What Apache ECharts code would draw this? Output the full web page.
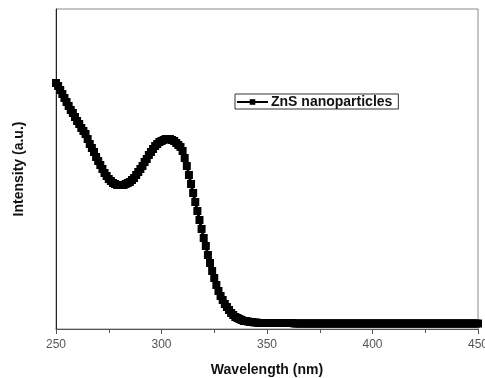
<!DOCTYPE html>
<html>
<head>
<meta charset="utf-8">
<script src="https://cdn.jsdelivr.net/npm/echarts@6/dist/echarts.min.js"></script>
<style>
  html, body { margin: 0; padding: 0; background: #fff; }
  #chart { width: 485px; height: 378px; }
</style>
</head>
<body>
<div id="chart"></div>
<script>
// wavelength axis
const xTicks = [250, 300, 350, 400, 450];
const startWavelength = 250;

// intensity (a.u.) at 1 nm steps, 250..450 nm
const intensity = [
  246, 243, 239, 235, 231, 227, 223, 219, 216, 212,
  208, 205, 201, 198, 195, 190, 185, 181, 177, 172,
  168, 164, 160, 156, 153, 150, 148, 146, 145, 144,
  144, 144, 144, 145, 146, 147, 149, 151, 154, 157,
  160, 163, 167, 170, 174, 177, 180, 183, 185, 187,
  188, 189, 190, 190, 190, 189, 188, 186, 184, 182,
  178, 171, 163, 154, 145, 136, 127, 118, 109, 100,
  91, 83, 74, 66, 58, 51, 44, 38, 33, 29,
  25, 22, 19, 16, 14, 12, 11, 10, 9, 8,
  8, 7.5, 7, 7, 6.5, 6.5, 6, 6, 6, 6,
  6, 6, 6, 6, 6, 6, 6, 6, 6, 6,
  6, 6, 6, 5.5, 5.5, 5.5, 5.5, 5.5, 5.5, 5.5,
  5.5, 5.5, 5.5, 5.5, 5.5, 5.5, 5.5, 5.5, 5.5, 5.5,
  5.5, 5.5, 5.5, 5.5, 5.5, 5.5, 5.5, 5.5, 5.5, 5.5,
  5.5, 5.5, 5.5, 5.5, 5.5, 5.5, 5.5, 5.5, 5.5, 5.5,
  5.5, 5.5, 5.5, 5.5, 5.5, 5.5, 5.5, 5.5, 5.5, 5.5,
  5.5, 5.5, 5.5, 5.5, 5.5, 5.5, 5.5, 5.5, 5.5, 5.5,
  5.5, 5.5, 5.5, 5.5, 5.5, 5.5, 5.5, 5.5, 5.5, 5.5,
  5.5, 5.5, 5.5, 5.5, 5.5, 5.5, 5.5, 5.5, 5.5, 5.5,
  5.5, 5.5, 5.5, 5.5, 5.5, 5.5, 5.5, 5.5, 5.5, 5.5,
  5.5
];

const points = intensity.map((v, i) => [startWavelength + i, v]);

const chart = echarts.init(document.getElementById("chart"));
chart.setOption({
  animation: false,
  textStyle: { fontFamily: "Liberation Sans, Arial, sans-serif" },
  grid: {
    left: 56, right: 7, top: 9, bottom: 49,
    outerBoundsMode: "none",
    show: true, borderColor: "#8a8a8a", borderWidth: 1
  },
  legend: {
    left: 235, top: 94,
    data: ["ZnS nanoparticles"],
    itemWidth: 31, itemHeight: 7, itemGap: 4,
    padding: [1, 6, 0, 1],
    borderColor: "#333", borderWidth: 1,
    textStyle: { fontSize: 14, fontWeight: "bold", color: "#111", padding: [0, 0, 0, -2] }
  },
  xAxis: {
    type: "value",
    min: xTicks[0], max: xTicks[xTicks.length - 1], interval: 50,
    name: "Wavelength (nm)", nameLocation: "middle", nameGap: 34,
    nameTextStyle: { fontSize: 14, fontWeight: "bold", color: "#111" },
    axisLine: { lineStyle: { color: "#555", width: 1 } },
    axisTick: { length: 5, lineStyle: { color: "#555" } },
    minorTick: { show: true, splitNumber: 2, length: 4, lineStyle: { color: "#555" } },
    axisLabel: { fontSize: 12, color: "#555", margin: 10 },
    splitLine: { show: false }
  },
  yAxis: {
    type: "value", min: 0, max: 320,
    name: "Intensity (a.u.)", nameLocation: "middle", nameGap: 30,
    nameTextStyle: { fontSize: 14, fontWeight: "bold", color: "#111" },
    axisLine: { show: true, lineStyle: { color: "#222", width: 1 } },
    axisTick: { show: false },
    axisLabel: { show: false },
    splitLine: { show: false }
  },
  series: [{
    name: "ZnS nanoparticles",
    type: "line",
    data: points,
    symbol: "rect",
    symbolSize: 8,
    showAllSymbol: true,
    lineStyle: { color: "#000", width: 3 },
    itemStyle: { color: "#000" }
  }]
});
</script>
</body>
</html>
